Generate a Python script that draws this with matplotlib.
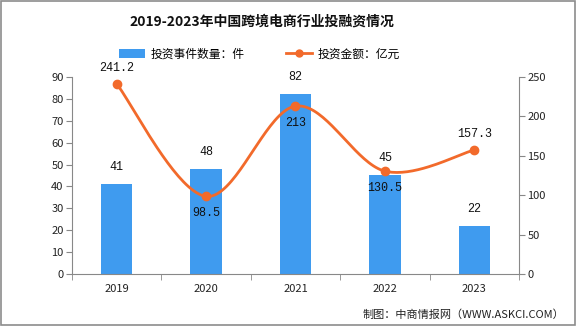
import numpy as np
import matplotlib
matplotlib.use("Agg")
import matplotlib.pyplot as plt
from matplotlib.lines import Line2D
from matplotlib.patches import Patch, Rectangle

plt.rcParams['font.family'] = ['Noto Sans CJK SC', 'DejaVu Sans']

years = ["2019", "2020", "2021", "2022", "2023"]
deal_counts = [41, 48, 82, 45, 22]
amounts = [241.2, 98.5, 213, 130.5, 157.3]

bar_color = "#3f9bef"
line_color = "#f26a2b"
axis_color = "#888888"

fig = plt.figure(figsize=(5.76, 3.26), dpi=100)
ax = fig.add_axes([0.125, 0.1595, 0.776, 0.6045])
ax2 = ax.twinx()

x = np.arange(len(years))
ax.bar(x, deal_counts, width=0.35, color=bar_color, zorder=2)
ax.set_xlim(-0.5, len(years) - 0.5)
ax.set_ylim(0, 90)
ax.set_yticks(range(0, 91, 10))
ax2.set_ylim(0, 250)
ax2.set_yticks(range(0, 251, 50))


def cardinal_spline(xs, ys, tension=0.5, n=40):
    xs = np.asarray(xs, float)
    ys = np.asarray(ys, float)
    px = np.concatenate([[xs[0]], xs, [xs[-1]]])
    py = np.concatenate([[ys[0]], ys, [ys[-1]]])
    out_x, out_y = [], []
    for i in range(1, len(px) - 2):
        p0, p1, p2, p3 = (np.array([px[j], py[j]]) for j in (i - 1, i, i + 1, i + 2))
        m1 = tension * (p2 - p0)
        m2 = tension * (p3 - p1)
        t = np.linspace(0, 1, n)[:, None]
        h00 = 2 * t**3 - 3 * t**2 + 1
        h10 = t**3 - 2 * t**2 + t
        h01 = -2 * t**3 + 3 * t**2
        h11 = t**3 - t**2
        pts = h00 * p1 + h10 * m1 + h01 * p2 + h11 * m2
        out_x.extend(pts[:, 0])
        out_y.extend(pts[:, 1])
    return np.array(out_x), np.array(out_y)


sx, sy = cardinal_spline(x, amounts, tension=0.5)
ax2.plot(sx, sy, color=line_color, lw=2.0, zorder=3, solid_capstyle="round")
ax2.plot(x, amounts, "o", color=line_color, ms=6, zorder=4)

# axis styling
for a in (ax, ax2):
    a.spines["top"].set_visible(False)
    a.spines["left"].set_color(axis_color)
    a.spines["right"].set_color(axis_color)
    a.spines["bottom"].set_color(axis_color)
ax.spines["right"].set_visible(False)
ax2.spines["left"].set_visible(False)
ax2.spines["bottom"].set_visible(False)

ax.tick_params(axis="y", colors=axis_color, labelcolor="#222222", labelsize=8, length=4, pad=2)
ax2.tick_params(axis="y", colors=axis_color, labelcolor="#222222", labelsize=8, length=4, pad=2)
ax.set_xticks(x)
ax.set_xticklabels(years)
ax.set_xticks(np.arange(-0.5, len(years), 1.0), minor=True)
ax.tick_params(axis="x", which="major", length=0, labelsize=8, labelcolor="#222222", pad=7)
ax.tick_params(axis="x", which="minor", length=4, colors=axis_color)

# value labels
lbl_font = dict(fontsize=8.5, color="#111111", family=["Liberation Mono", "DejaVu Sans"])
for xi, v in zip(x, deal_counts):
    ax.annotate(str(v), (xi, v), xytext=(0, 8), textcoords="offset points",
                ha="center", va="bottom", **lbl_font)
above = [True, False, False, False, True]
for xi, v, up in zip(x, amounts, above):
    txt = f"{v:g}"
    if up:
        ax2.annotate(txt, (xi, v), xytext=(0, 7), textcoords="offset points",
                     ha="center", va="bottom", zorder=5, **lbl_font)
    else:
        ax2.annotate(txt, (xi, v), xytext=(0, -8), textcoords="offset points",
                     ha="center", va="top", zorder=5, **lbl_font)

# title and legend
fig.text(0.455, 0.935, "2019-2023年中国跨境电商行业投融资情况", ha="center", va="center",
         fontsize=10, fontweight="bold", color="#111111")
handles = [
    Patch(facecolor=bar_color, edgecolor="none", label="投资事件数量：件"),
    Line2D([0], [0], color=line_color, lw=2.0, marker="o", ms=5, label="投资金额：亿元"),
]
fig.legend(handles=handles, loc="center", bbox_to_anchor=(0.45, 0.835), ncol=2,
           frameon=False, fontsize=8.5, handlelength=2.2, handleheight=0.8,
           columnspacing=3.5, handletextpad=0.5)

fig.text(0.98, 0.035, "制图：中商情报网（WWW.ASKCI.COM）", ha="right", va="center",
         fontsize=8, color="#222222")

# outer frame
fig.patches.append(Rectangle((0.002, 0.003), 0.996, 0.994, transform=fig.transFigure,
                             fill=False, edgecolor="#8c8c8c", lw=1.2))

fig.savefig("out.png", dpi=100)
